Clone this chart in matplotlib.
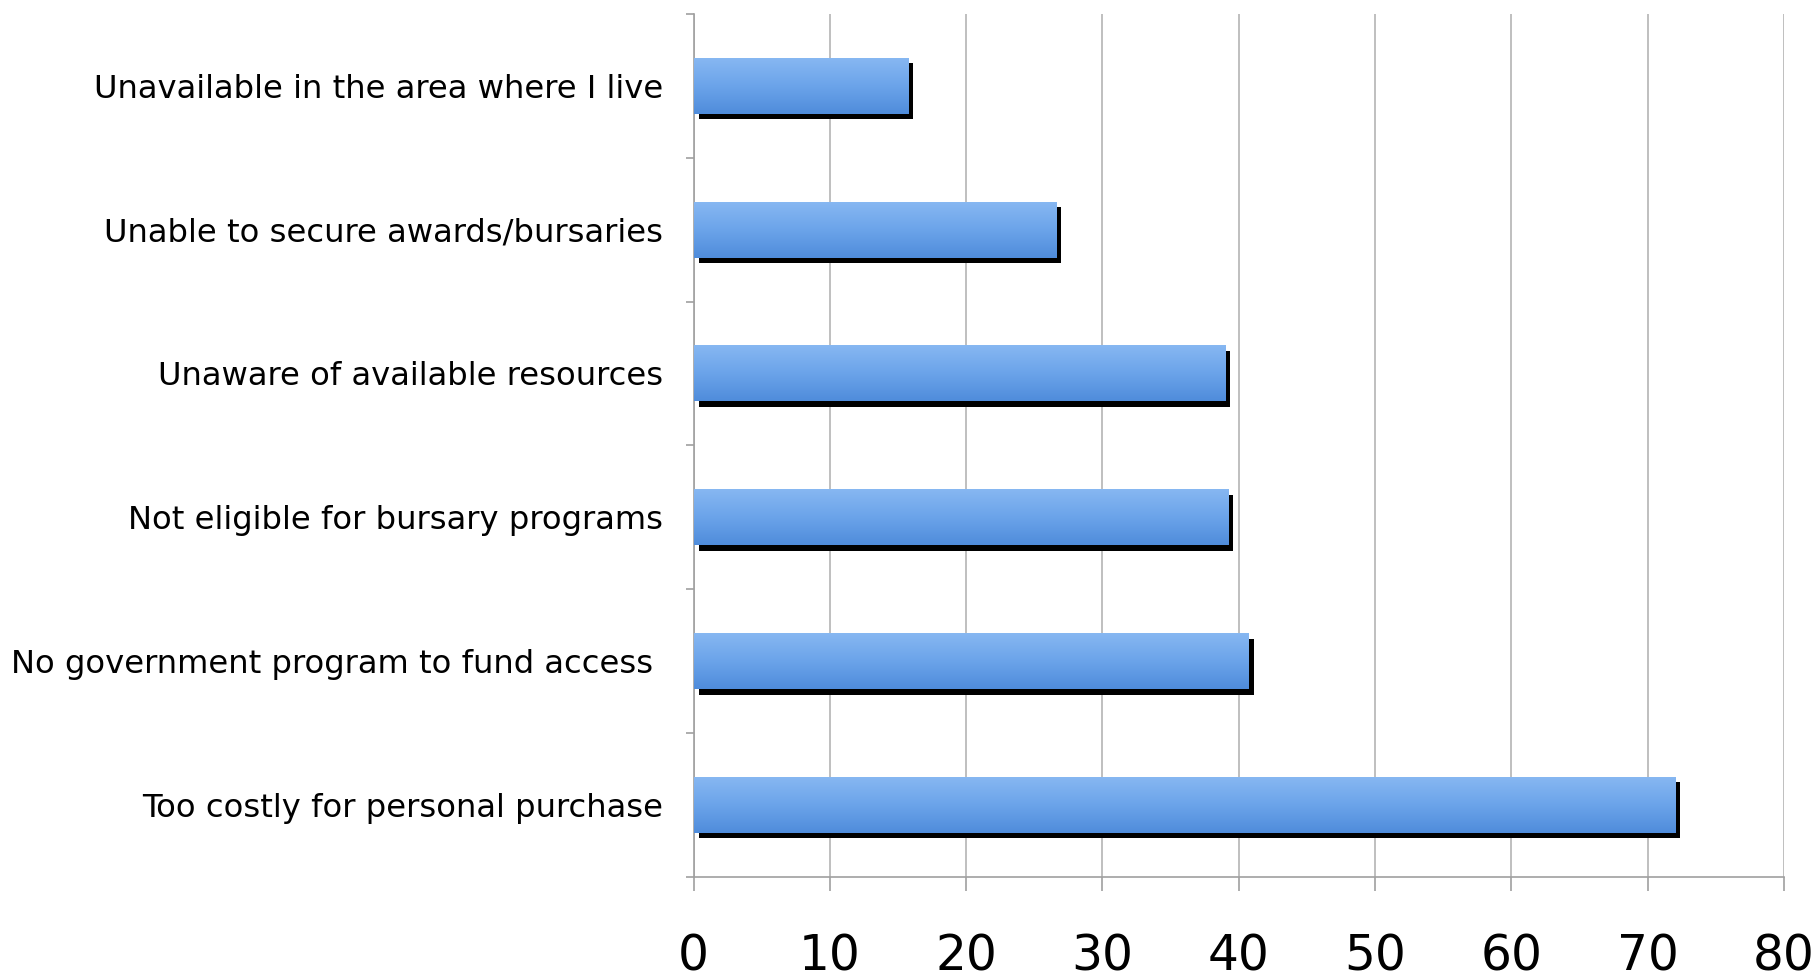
import numpy as np
import matplotlib
matplotlib.use("Agg")
import matplotlib.pyplot as plt
from matplotlib import patheffects as pe
from matplotlib.colors import LinearSegmentedColormap

# Barriers to access (top to bottom as displayed)
categories = [
    "Unavailable in the area where I live",
    "Unable to secure awards/bursaries",
    "Unaware of available resources",
    "Not eligible for bursary programs",
    "No government program to fund access ",
    "Too costly for personal purchase",
]
values = [15.7, 26.6, 39.0, 39.2, 40.7, 72.0]
x_ticks = [0, 10, 20, 30, 40, 50, 60, 70, 80]

plt.rcParams["font.family"] = ["DejaVu Sans"]

fig = plt.figure(figsize=(18.16, 9.77), dpi=100)
ax = fig.add_axes([0.3819, 0.1027, 0.6005, 0.8830])

n = len(categories)
ypos = np.arange(n)[::-1]  # first category at the top
bar_h = 0.39

grad = LinearSegmentedColormap.from_list(
    "barblue", ["#4f8cdb", "#6ba4ea", "#88b8f2"])
gradient = np.linspace(0, 1, 256).reshape(-1, 1)

bars = ax.barh(ypos, values, height=bar_h, color="#6aa2ea", zorder=3,
               linewidth=0)
for b in bars:
    b.set_path_effects([pe.SimplePatchShadow(offset=(3.8, -4.0),
                                             shadow_rgbFace="black",
                                             alpha=1.0),
                        pe.Normal()])
    x0, y0 = b.get_x(), b.get_y()
    w, h = b.get_width(), b.get_height()
    im = ax.imshow(gradient, cmap=grad, aspect="auto", origin="lower",
                   extent=[x0, x0 + w, y0, y0 + h], zorder=4,
                   interpolation="bilinear")
    im.set_clip_path(b)

ax.set_xlim(0, 80)
ax.set_ylim(-0.5, n - 0.5)

ax.set_xticks(x_ticks)
ax.set_xticklabels([str(t) for t in x_ticks], fontsize=35)
ax.tick_params(axis="x", length=10, width=1.2, color="#a0a0a0", pad=30)

# category boundaries carry the tick marks, centres carry the labels
ax.set_yticks(np.arange(-0.5, n, 1.0))
ax.set_yticklabels([])
ax.set_yticks(ypos, minor=True)
ax.set_yticklabels(categories, minor=True, fontsize=23.2)
ax.tick_params(axis="y", which="major", length=6, width=1.2, color="#a0a0a0")
ax.tick_params(axis="y", which="minor", length=0, pad=22)

ax.grid(axis="x", color="#b4b4b4", linewidth=1.2, zorder=0)
ax.set_axisbelow(True)
for side in ("top", "right"):
    ax.spines[side].set_visible(False)
for side in ("left", "bottom"):
    ax.spines[side].set_color("#a0a0a0")
    ax.spines[side].set_linewidth(1.2)

fig.savefig("out.png", dpi=100, facecolor="white")
